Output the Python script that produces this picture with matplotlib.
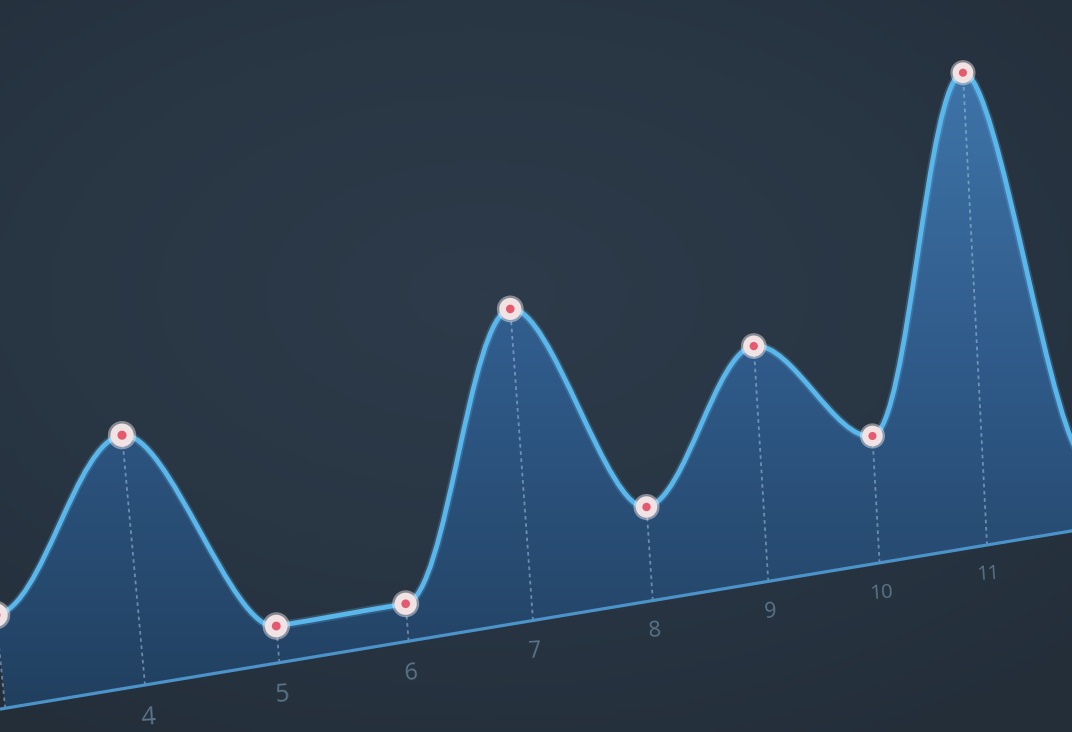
import numpy as np
import matplotlib
matplotlib.use('Agg')
import matplotlib.pyplot as plt
import matplotlib.transforms as mtransforms
from matplotlib.path import Path
from matplotlib.patches import PathPatch
from matplotlib.colors import LinearSegmentedColormap

# values (x category, height of the point)
x_vals = [3, 4, 5, 6, 7, 8, 9, 10, 11, 12]
y_vals = [18.8, 51.0, 7.7, 8.0, 67.0, 20.7, 52.6, 29.0, 108.0, 16.0]
# only these tick labels are inside the photo
tick_pos = [4, 5, 6, 7, 8, 9, 10, 11]
tick_labels = ['4', '5', '6', '7', '8', '9', '10', '11']

# homography: chart plane (x, value, 1) -> photo pixels (the chart is seen at an angle)
H = np.array([[139.96, -0.479, -414.84],
              [-9.14, -5.0, 721.56],
              [0.01993, -2.337e-4, 0.92028]])


class Perspective(mtransforms.Transform):
	input_dims = 2
	output_dims = 2

	def __init__(self, H):
		super().__init__()
		self.H = np.asarray(H, float)

	def transform_non_affine(self, values):
		values = np.asarray(values, float)
		hom = np.column_stack([values, np.ones(len(values))]) @ self.H.T
		return hom[:, :2] / hom[:, 2:]


def depth(x, y):
	# the projective denominator, used to scale sizes with distance
	return H[2, 0] * np.asarray(x) + H[2, 1] * np.asarray(y) + H[2, 2]


W, Hpx = 1072, 732
fig = plt.figure(figsize=(W / 100., Hpx / 100.), dpi=100)
ax = fig.add_axes([0, 0, 1, 1])
ax.axis('off')
trans = Perspective(H) + ax.transData

### background with a soft vignette ###
yy, xx = np.mgrid[0:1:200j, 0:1:300j]
r = np.sqrt(((xx - 0.45) / 0.9) ** 2 + ((yy - 0.4) / 0.8) ** 2)
bg_cmap = LinearSegmentedColormap.from_list('bg', ['#2d3b4a', '#293644', '#232e39'])
ax.imshow(r, cmap=bg_cmap, vmin=0, vmax=0.9, extent=[0, W, Hpx, 0], aspect='auto', zorder=0)

### curve path: flat handles at every point ###
xs = np.array(x_vals, float)
ys = np.array(y_vals, float)
curve_v = [(xs[0], ys[0])]
curve_c = [Path.MOVETO]
for i in range(len(xs) - 1):
	dx = xs[i + 1] - xs[i]
	curve_v += [(xs[i] + dx / 3., ys[i]), (xs[i + 1] - dx / 3., ys[i + 1]), (xs[i + 1], ys[i + 1])]
	curve_c += [Path.CURVE4] * 3

area_v = [(xs[0], 0.)] + curve_v + [(xs[-1], 0.), (xs[0], 0.)]
area_c = [Path.MOVETO] + [Path.LINETO] + curve_c[1:] + [Path.LINETO, Path.CLOSEPOLY]

area = PathPatch(Path(area_v, area_c), facecolor='none', edgecolor='none', transform=trans)
ax.add_patch(area)

# vertical gradient inside the area
grad = np.linspace(0, 1, 300).reshape(-1, 1)
fill_cmap = LinearSegmentedColormap.from_list('fill', ['#3f75aa', '#2e5886', '#213f5e'])
im = ax.imshow(grad, cmap=fill_cmap, extent=[0, W, 720, 60], aspect='auto', zorder=1)
im.set_clip_path(area)

# dashed drop lines
for xv, yv in zip(x_vals, y_vals):
	ax.plot([xv, xv], [0, yv], transform=trans, color='#b3cfe6', alpha=0.5, lw=1.3,
	        ls=(0, (2.0, 2.0)), zorder=2)

# baseline
ax.plot([2.9, 12.5], [0, 0], transform=trans, color='#4b93c8', lw=2.3, zorder=3,
        solid_capstyle='butt')

# the line, with a faint glow
glow = PathPatch(Path(curve_v, curve_c), facecolor='none', edgecolor='#6cc2f2', lw=6,
                 alpha=0.22, transform=trans, zorder=4)
ax.add_patch(glow)
line = PathPatch(Path(curve_v, curve_c), facecolor='none', edgecolor='#5ab7ec', lw=3.4,
                 transform=trans, zorder=5, capstyle='round', joinstyle='round')
ax.add_patch(line)

# markers, a bit larger where the photo is closer
dd = depth(xs, ys)
px_pt = 72. / 100.
ax.scatter(xs, ys, s=(28 / dd * px_pt) ** 2, color='#f6eeee', alpha=0.45, edgecolors='none',
           transform=trans, zorder=6)
ax.scatter(xs, ys, s=(23 / dd * px_pt) ** 2, color='#f1e2e4', edgecolors='none',
           transform=trans, zorder=7)
ax.scatter(xs, ys, s=(9 / dd * px_pt) ** 2, color='#e65a6f', edgecolors='none',
           transform=trans, zorder=8)

# tick labels under the baseline
for xv, lab in zip(tick_pos, tick_labels):
	d = depth(xv, -6.9)
	ax.text(xv, -6.9, lab, transform=trans, ha='center', va='center', fontsize=18.5 / d ** 2,
	        color='#5b7489', rotation=4, family='Open Sans', zorder=3)

ax.set_xlim(0, W)
ax.set_ylim(Hpx, 0)
fig.savefig('out.png', dpi=100)
